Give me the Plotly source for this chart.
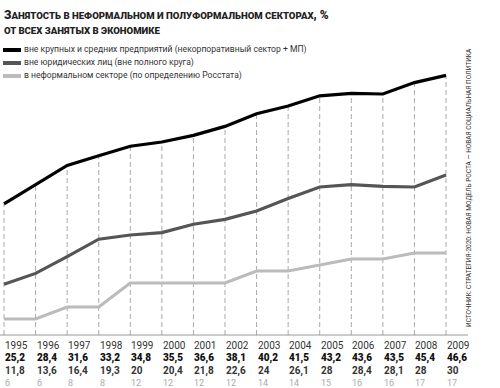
import plotly.graph_objects as go

years = list(range(1995, 2010))
non_large = [25.2, 28.4, 31.6, 33.2, 34.8, 35.5, 36.6, 38.1, 40.2, 41.5, 43.2, 43.6, 43.5, 45.4, 46.6]
non_legal = [11.8, 13.6, 16.4, 19.3, 20, 20.4, 21.8, 22.6, 24, 26.1, 28, 28.4, 28.1, 28, 30]
informal = [6, 6, 8, 8, 12, 12, 12, 12, 14, 14, 15, 16, 16, 17, 17]

names = ["вне крупных и средних предприятий (некорпоративный сектор + МП)",
         "вне юридических лиц (вне полного круга)",
         "в неформальном секторе (по определению Росстата)"]
colors = ["#000000", "#555555", "#bbbbbb"]

def fmt(v):
    s = ("%.1f" % v).rstrip("0").rstrip(".")
    return s.replace(".", ",")

FONT = "Roboto"
W, H = 500, 388
BASE = 3.33
x0, x1 = 1994.873, 2010.71
y0, y1 = -5.5, 355 / 6

fig = go.Figure()

# dashed verticals from baseline to top series
for yr, v in zip(years, non_large):
    fig.add_trace(go.Scatter(x=[yr, yr], y=[BASE, v], mode="lines",
                             line=dict(color="#aaaaaa", width=1, dash="5px,3px"),
                             hoverinfo="skip", showlegend=False))

for vals, c in zip([informal, non_legal, non_large], colors[::-1]):
    fig.add_trace(go.Scatter(x=years, y=vals, mode="lines",
                             line=dict(color=c, width=3.2), showlegend=False))

# baseline
fig.add_shape(type="line", xref="paper", yref="y", x0=0, x1=468 / W, y0=BASE, y1=BASE,
              line=dict(color="#999999", width=1))

ann = []
def py(px):
    return 1 - px / H

rows = [(years, 345, "#333333", 10, 400, lambda v: str(v)),
        (non_large, 358, "#111111", 10, 900, fmt),
        (non_legal, 370.5, "#333333", 10, 700, fmt),
        (informal, 383, "#aaaaaa", 9, 400, fmt)]
for vals, ypx, col, fs, wt, f in rows:
    for yr, v in zip(years, vals):
        ann.append(dict(x=yr - 0.03, y=py(ypx), xref="x", yref="paper", text=f(v), showarrow=False,
                        xanchor="left", yanchor="middle",
                        font=dict(family=FONT, size=fs, color=col, weight=wt)))

t1 = "З<span style='font-size:9.6px'>АНЯТОСТЬ В НЕФОРМАЛЬНОМ И ПОЛУФОРМАЛЬНОМ СЕКТОРАХ</span>, %"
t2 = "<span style='font-size:9.6px'>ОТ ВСЕХ ЗАНЯТЫХ В ЭКОНОМИКЕ</span>"
ann.append(dict(x=2 / W, y=py(15), xref="paper", yref="paper", text=t1, showarrow=False,
                xanchor="left", yanchor="middle",
                font=dict(family=FONT, size=12, color="#222222", weight=900)))
ann.append(dict(x=2 / W, y=py(31), xref="paper", yref="paper", text=t2, showarrow=False,
                xanchor="left", yanchor="middle",
                font=dict(family=FONT, size=12, color="#222222", weight=900)))

# legend
for i, (n, c) in enumerate(zip(names, colors)):
    ypx = 50 + i * 13
    fig.add_shape(type="line", xref="paper", yref="paper", x0=3 / W, x1=21 / W,
                  y0=py(ypx), y1=py(ypx), line=dict(color=c, width=4))
    ann.append(dict(x=22 / W, y=py(ypx), xref="paper", yref="paper", text=n, showarrow=False,
                    xanchor="left", yanchor="middle", font=dict(family=FONT, size=8.6, color="#333333")))

# source
ann.append(dict(x=469 / W, y=py(188), xref="paper", yref="paper", textangle=-90,
                text="ИСТОЧНИК: СТРАТЕГИЯ-2020: НОВАЯ МОДЕЛЬ РОСТА — НОВАЯ СОЦИАЛЬНАЯ ПОЛИТИКА",
                showarrow=False, xanchor="center", yanchor="middle",
                font=dict(family="Liberation Sans Narrow, Roboto", size=6.5, color="#333333")))

fig.update_layout(width=W, height=H, margin=dict(l=0, r=0, t=0, b=0),
                  paper_bgcolor="white", plot_bgcolor="white",
                  xaxis=dict(range=[x0, x1], visible=False, fixedrange=True),
                  yaxis=dict(range=[y0, y1], visible=False, fixedrange=True),
                  annotations=ann, showlegend=False)
fig.write_html("out.html", config={"displayModeBar": False},
               post_script="document.body.style.margin='0';document.body.style.overflow='hidden';")
